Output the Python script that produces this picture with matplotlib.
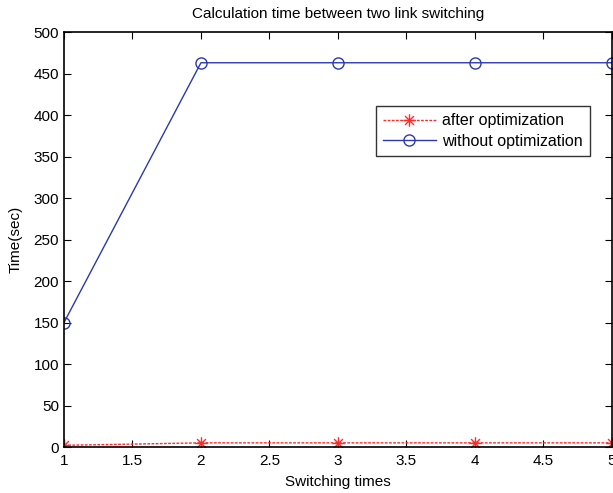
import matplotlib
matplotlib.use("Agg")
import matplotlib.pyplot as plt
from matplotlib.path import Path

plt.rcParams['font.family'] = ['Liberation Sans', 'DejaVu Sans']

switching = [1, 2, 3, 4, 5]
after_opt = [2, 5, 5, 5, 5]
without_opt = [150, 463, 463, 463, 463]

# eight-spoke asterisk marker built from line segments
d = 0.7071
asterisk = Path(
    [(-1, 0), (1, 0), (0, -1), (0, 1), (-d, -d), (d, d), (-d, d), (d, -d)],
    [Path.MOVETO, Path.LINETO] * 4,
)

fig = plt.figure(figsize=(6.13, 4.93), dpi=100)
ax = fig.add_axes([0.1044, 0.0933, 0.8936, 0.8417])

ax.plot(switching, after_opt, color='#ff2a2a', linestyle=(0, (2, 1)), linewidth=1.0,
        marker=asterisk, markersize=9, markeredgewidth=1.0, markerfacecolor='none',
        label='after optimization')
ax.plot(switching, without_opt, color='#2a3aae', linestyle='-', linewidth=1.0,
        marker='o', markersize=8, markerfacecolor='none', markeredgewidth=1.0,
        label='without optimization')

ax.set_xlim(1, 5)
ax.set_ylim(0, 500)
ax.set_xticks([1, 1.5, 2, 2.5, 3, 3.5, 4, 4.5, 5])
ax.set_xticklabels(['1', '1.5', '2', '2.5', '3', '3.5', '4', '4.5', '5'])
ax.set_yticks(range(0, 501, 50))
ax.tick_params(direction='in', top=True, right=True, length=5, width=0.8,
               labelsize=11, colors='black')
ax.tick_params(axis='x', pad=5)
for s in ax.spines.values():
    s.set_linewidth(1.2)

ax.set_xlabel('Switching times', fontsize=11, labelpad=5)
ax.set_ylabel('Time(sec)', fontsize=11, labelpad=8)
ax.set_title('Calculation time between two link switching', fontsize=11, pad=10)

leg = ax.legend(loc='upper right', bbox_to_anchor=(0.96, 0.822), borderaxespad=0,
                fontsize=11.5, frameon=True, fancybox=False, edgecolor='black',
                borderpad=0.45, handlelength=3.3, labelspacing=0.35,
                handletextpad=0.4)
leg.get_frame().set_linewidth(1.0)

fig.savefig('out.png', dpi=100)
